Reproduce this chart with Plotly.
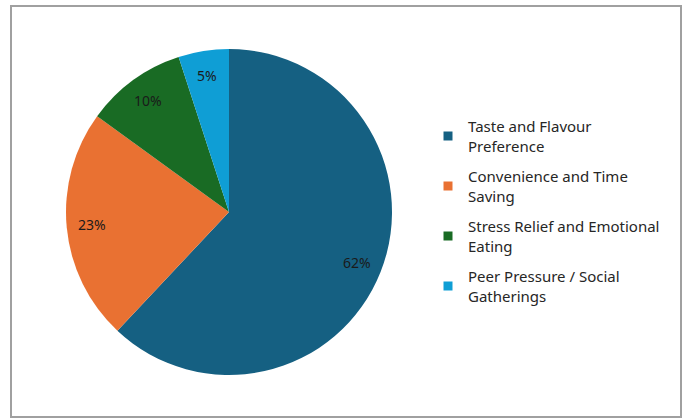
import math
import plotly.graph_objects as go

categories = [
    "Taste and Flavour Preference",
    "Convenience and Time Saving",
    "Stress Relief and Emotional Eating",
    "Peer Pressure / Social Gatherings",
]
legend_labels = [
    "Taste and Flavour<br>Preference",
    "Convenience and Time<br>Saving",
    "Stress Relief and Emotional<br>Eating",
    "Peer Pressure / Social<br>Gatherings",
]
values = [62, 23, 10, 5]
colors = ["#156082", "#E97132", "#196B24", "#0F9ED5"]

W, H = 684, 419
CX, CY, R = 229, 212, 163  # pie centre / radius in px

fig = go.Figure()
fig.add_trace(
    go.Pie(
        labels=categories,
        values=values,
        sort=False,
        direction="clockwise",
        rotation=0,
        marker=dict(colors=colors, line=dict(width=0)),
        textinfo="none",
        domain=dict(x=[(CX - R) / W, (CX + R) / W], y=[(H - CY - R) / H, (H - CY + R) / H]),
        hoverinfo="label+percent",
        showlegend=False,
    )
)

# legend entries (one per category, each in its own group for spacing)
for lab, col in zip(legend_labels, colors):
    fig.add_trace(
        go.Scatter(
            x=[None],
            y=[None],
            mode="markers",
            name=lab,
            legendgroup=lab,
            marker=dict(symbol="square", size=9, color=col),
            hoverinfo="skip",
        )
    )

# percentage labels placed from the data (cumulative angles)
total = sum(values)
annotations = []
cum = 0
for v in values:
    mid = (cum + v / 2) / total * 2 * math.pi
    cum += v
    rr = 0.845 * R
    px = CX + rr * math.sin(mid)
    py = CY - rr * math.cos(mid)
    annotations.append(
        dict(
            x=px / W,
            y=(H - py) / H,
            xref="paper",
            yref="paper",
            text=f"{round(v / total * 100)}%",
            showarrow=False,
            font=dict(family="Noto Sans", size=14, color="#1a1a1a"),
            xanchor="center",
            yanchor="middle",
        )
    )

fig.update_layout(
    width=W,
    height=H,
    margin=dict(l=0, r=0, t=0, b=0),
    paper_bgcolor="white",
    plot_bgcolor="white",
    showlegend=True,
    xaxis=dict(visible=False),
    yaxis=dict(visible=False),
    legend=dict(
        x=428 / W,
        y=(H - 110) / H,
        xanchor="left",
        yanchor="top",
        font=dict(family="Noto Sans", size=15, color="#262626"),
        itemwidth=30,
        tracegroupgap=8,
        bgcolor="rgba(0,0,0,0)",
    ),
    annotations=annotations,
    shapes=[
        dict(
            type="rect",
            xref="paper",
            yref="paper",
            x0=11 / W,
            x1=681 / W,
            y0=2 / H,
            y1=(H - 6) / H,
            line=dict(color="#a0a0a0", width=2),
            fillcolor="rgba(0,0,0,0)",
            layer="below",
        )
    ],
)

fig.write_html("out.html")
